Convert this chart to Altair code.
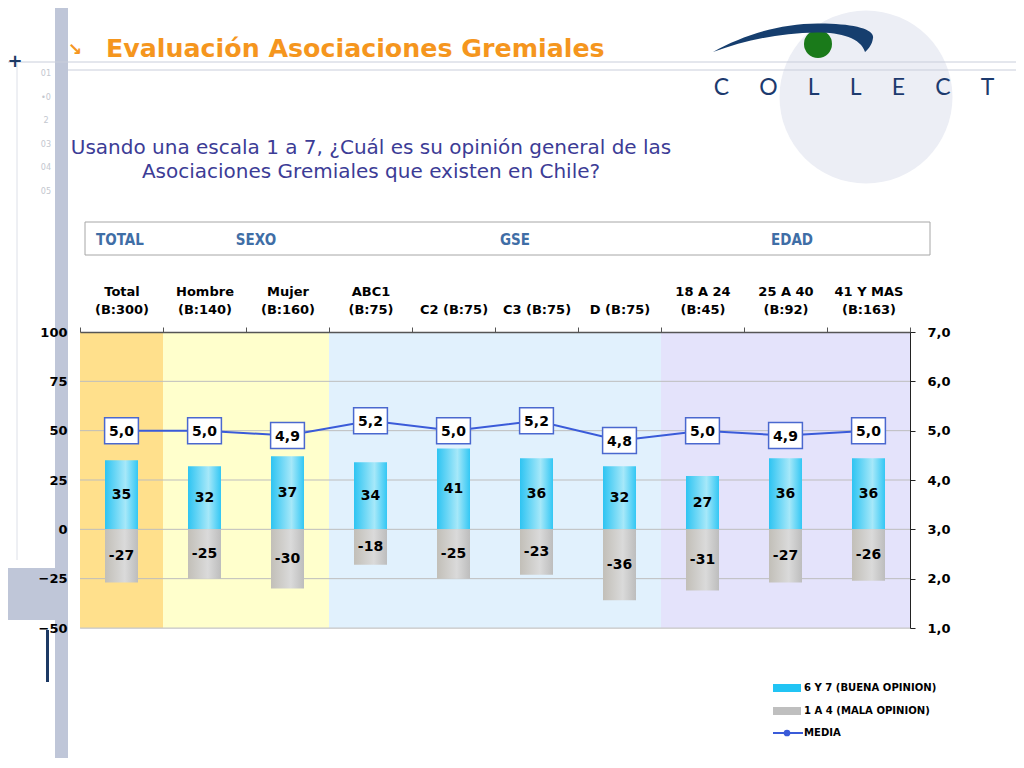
import altair as alt
import pandas as pd

# ---------------- data ----------------
cats = ["Total|(B:300)", "Hombre|(B:140)", "Mujer|(B:160)", "ABC1|(B:75)",
        "|C2 (B:75)", "|C3 (B:75)", "|D (B:75)", "18 A 24|(B:45)", "25 A 40|(B:92)",
        "41 Y MAS|(B:163)"]
groups = ["TOTAL", "SEXO", "SEXO", "GSE", "GSE", "GSE", "GSE", "EDAD", "EDAD", "EDAD"]
good = [35, 32, 37, 34, 41, 36, 32, 27, 36, 36]
bad = [-27, -25, -30, -18, -25, -23, -36, -31, -27, -26]
media = [5.0, 5.0, 4.9, 5.2, 5.0, 5.2, 4.8, 5.0, 4.9, 5.0]

group_names = ["TOTAL", "SEXO", "GSE", "EDAD"]
group_colors = ["#FFE08C", "#FFFFCC", "#E1F1FD", "#E4E3FB"]
left_ticks = [-50, -25, 0, 25, 50, 75, 100]
right_ticks = [1, 2, 3, 4, 5, 6, 7]
grid_vals = [75, 50, 25, 0, -25]
legend_labels = ["6 Y 7 (BUENA OPINION)", "1 A 4 (MALA OPINION)", "MEDIA"]
title_text = "Evaluación Asociaciones Gremiales"
question = ["Usando una escala 1 a 7, ¿Cuál es su opinión general de las",
            "Asociaciones Gremiales que existen en Chile?"]

df = pd.DataFrame({"cat": cats, "group": groups, "good": good, "bad": bad, "media": media})

W, H = 830, 296
FONT = "DejaVu Sans"
NARROW = "Liberation Sans Narrow, DejaVu Sans Condensed, Arial Narrow, sans-serif"

x_enc = alt.X("cat:N", sort=cats, title=None,
              scale=alt.Scale(paddingInner=0, paddingOuter=0),
              axis=alt.Axis(orient="top", labelAngle=0, labelExpr="split(datum.label, '|')",
                            labelFont=FONT, labelFontWeight="bold", labelFontSize=13,
                            labelColor="#000000", labelLineHeight=18, labelPadding=29,
                            labelOverlap=False, labelLimit=200,
                            domain=True, domainColor="#555555", domainWidth=1.5,
                            ticks=True, tickBand="extent", tickColor="#555555", tickSize=5,
                            grid=False, zindex=2))

left_scale = alt.Scale(domain=[-50, 100], nice=False, zero=False)
left_axis = alt.Axis(orient="left", values=left_ticks, domain=False, ticks=False, grid=False,
                     labelFont=FONT, labelFontWeight="bold", labelFontSize=13,
                     labelColor="#000000", labelPadding=13, title=None, zindex=2)
right_scale = alt.Scale(domain=[1, 7], nice=False, zero=False)
right_axis = alt.Axis(orient="right", values=right_ticks, domain=True, domainColor="#222222",
                      ticks=True, tickColor="#222222", tickSize=5, grid=False,
                      labelFont=FONT, labelFontWeight="bold", labelFontSize=13,
                      labelColor="#000000", labelPadding=12, title=None, zindex=2,
                      labelExpr="replace(format(datum.value, '.1f'), '.', ',')")

base = alt.Chart(df)

# background bands
bg = base.mark_rect().encode(
    x=x_enc, y=alt.value(0), y2=alt.value(H),
    color=alt.Color("group:N", scale=alt.Scale(domain=group_names, range=group_colors), legend=None),
)

grid = alt.Chart(pd.DataFrame({"v": grid_vals})).mark_rule(color="#BDBDBD", strokeWidth=1).encode(
    y=alt.Y("v:Q", scale=left_scale, axis=left_axis), x=alt.value(0), x2=alt.value(W))
bottom = alt.Chart(pd.DataFrame({"v": [-50]})).mark_rule(color="#C8C8C8", strokeWidth=1.2).encode(
    y=alt.Y("v:Q", scale=left_scale, axis=left_axis), x=alt.value(0), x2=alt.value(W))

blue_grad = alt.Gradient(gradient="linear", x1=0, x2=1, y1=0, y2=0, stops=[
    alt.GradientStop(color="#2EC4F2", offset=0),
    alt.GradientStop(color="#A6E8F9", offset=0.62),
    alt.GradientStop(color="#33C7F4", offset=1)])
gray_grad = alt.Gradient(gradient="linear", x1=0, x2=1, y1=0, y2=0, stops=[
    alt.GradientStop(color="#C2BFB8", offset=0),
    alt.GradientStop(color="#DADADA", offset=0.6),
    alt.GradientStop(color="#BDBDBD", offset=1)])

bars_good = base.mark_bar(size=33, color=blue_grad).encode(
    x=x_enc, y=alt.Y("good:Q", scale=left_scale, axis=left_axis), y2=alt.datum(0))
bars_bad = base.mark_bar(size=33, color=gray_grad).encode(
    x=x_enc, y=alt.Y("bad:Q", scale=left_scale, axis=left_axis), y2=alt.datum(0))

lab_good = base.transform_calculate(mid="datum.good/2", lbl="'' + datum.good").mark_text(
    font=FONT, fontWeight="bold", fontSize=14, color="#000000", baseline="middle").encode(
    x=x_enc, y=alt.Y("mid:Q", scale=left_scale, axis=left_axis), text="lbl:N")
lab_bad = base.transform_calculate(mid="datum.bad/2", lbl="'' + datum.bad").mark_text(
    font=FONT, fontWeight="bold", fontSize=14, color="#000000", baseline="middle").encode(
    x=x_enc, y=alt.Y("mid:Q", scale=left_scale, axis=left_axis), text="lbl:N")

left_group = alt.layer(bg, grid, bottom, bars_good, bars_bad, lab_good, lab_bad)

line = base.mark_line(color="#3A5BD9", strokeWidth=2).encode(
    x=x_enc, y=alt.Y("media:Q", scale=right_scale, axis=right_axis))
box_shape = "M-1.3,-1L1.3,-1L1.3,1L-1.3,1Z"
boxes = base.mark_point(shape=box_shape, size=676, filled=True, fill="#FFFFFF",
                        stroke="#4A68CF", strokeWidth=1.5, opacity=1).encode(
    x=x_enc, y=alt.Y("media:Q", scale=right_scale, axis=right_axis))
media_txt = base.transform_calculate(lbl="replace(format(datum.media, '.1f'), '.', ',')").mark_text(
    font=FONT, fontWeight="bold", fontSize=14, color="#000000", baseline="middle", dy=1).encode(
    x=x_enc, y=alt.Y("media:Q", scale=right_scale, axis=right_axis), text="lbl:N")

right_group = alt.layer(line, boxes, media_txt)

# ---------------- decorations ----------------
one = pd.DataFrame({"a": [0]})


def rect(x1, x2, y1, y2, **kw):
    return alt.Chart(one).mark_rect(**kw).encode(
        x=alt.value(x1), x2=alt.value(x2), y=alt.value(y1), y2=alt.value(y2))


def hrule(x1, x2, y, **kw):
    return alt.Chart(one).mark_rule(**kw).encode(x=alt.value(x1), x2=alt.value(x2), y=alt.value(y))


def vrule(x, y1, y2, **kw):
    return alt.Chart(one).mark_rule(**kw).encode(x=alt.value(x), y=alt.value(y1), y2=alt.value(y2))


def text(t, x, y, **kw):
    return alt.Chart(one).mark_text(**kw).encode(x=alt.value(x), y=alt.value(y), text=alt.value(t))


def point(x, y, **kw):
    return alt.Chart(one).mark_point(**kw).encode(x=alt.value(x), y=alt.value(y))


deco = [
    point(786, -235, shape="circle", size=29929, filled=True, color="#ECEEF5", opacity=1),
    rect(-25, -12, -332, 436, color="#BFC6D8"),
    rect(-72, -25, 236, 288, color="#BFC6D8"),
    rect(-34, -31, 298, 350, color="#1C3964"),
    vrule(-63, -270, 228, color="#DDE0E8", strokeWidth=1),
    hrule(-72, 936, -270, color="#C9CEDB", strokeWidth=1),
    hrule(-12, 936, -262, color="#C9CEDB", strokeWidth=1),
    text("+", -65, -270, font=FONT, fontWeight="bold", fontSize=18, color="#1C3964",
         baseline="middle", align="center"),
    text(["01", "•0", "2", "03", "04", "05"], -34, -259, font=NARROW, fontSize=9,
         color="#C3C7CF", baseline="middle", align="center", lineHeight=23.6),
    text("↘", -5, -282, font=FONT, fontWeight="bold", fontSize=17, color="#F5961E",
         baseline="middle", align="center"),
    text(title_text, 26, -275, font=FONT, fontWeight="bold", fontSize=25.3, color="#F5961E",
         baseline="alphabetic", align="left"),
    text(question[0], 291, -184, font=FONT, fontSize=20, color="#3C3C96",
         baseline="middle", align="center"),
    text(question[1], 291, -160, font=FONT, fontSize=20, color="#3C3C96",
         baseline="middle", align="center"),
    rect(5, 850, -110, -77, fill="#FFFFFF", stroke="#A6A6A6", strokeWidth=1),
    text(group_names[0], 16, -92, font=NARROW, fontWeight="bold", fontSize=15, color="#3F6EA6",
         baseline="middle", align="left"),
    text(group_names[1], 176, -92, font=NARROW, fontWeight="bold", fontSize=15, color="#3F6EA6",
         baseline="middle", align="center"),
    text(group_names[2], 435, -92, font=NARROW, fontWeight="bold", fontSize=15, color="#3F6EA6",
         baseline="middle", align="center"),
    text(group_names[3], 712, -92, font=NARROW, fontWeight="bold", fontSize=15, color="#3F6EA6",
         baseline="middle", align="center"),
    text("C\u2003\u2002\u200aO\u2003\u2002\u200aL\u2003\u2002\u200aL\u2003\u2002\u200aE\u2003\u2002\u200aC\u2003\u2002\u200aT",
         774, -244, font="Lato", fontSize=23, color="#1C3A6E", baseline="middle", align="center"),
    point(738, -288, shape="circle", size=784, filled=True, color="#1A7A1A", opacity=1),
    point(713, -294,
          shape="M-1,0.175C-0.6,-0.05 -0.1,-0.2 0.4,-0.18C0.8,-0.17 1.02,-0.1 1,0C0.99,0.08 0.95,0.13 0.9,0.175C0.85,0 0.6,-0.07 0.3,-0.07C-0.2,-0.06 -0.6,0.03 -1,0.175Z",
          size=25600, filled=True, color="#163E6E", opacity=1),
    # legend
    rect(693, 721, 352, 360, color="#21C4F4"),
    rect(693, 721, 375, 383, color="#BFBFBF"),
    hrule(693, 723, 401, color="#3A5BD9", strokeWidth=2),
    point(707, 401, shape="circle", size=45, filled=True, color="#3A5BD9", opacity=1),
    text(legend_labels[0], 724, 356, font=NARROW, fontWeight="bold", fontSize=11.2, color="#000000",
         baseline="middle", align="left"),
    text(legend_labels[1], 724, 379, font=NARROW, fontWeight="bold", fontSize=11.2, color="#000000",
         baseline="middle", align="left"),
    text(legend_labels[2], 724, 401, font=NARROW, fontWeight="bold", fontSize=11.2, color="#000000",
         baseline="middle", align="left"),
]

chart = alt.layer(*deco, left_group, right_group).resolve_scale(y="independent").properties(
    width=W, height=H,
    autosize=alt.AutoSizeParams(type="none"),
    padding={"left": 72, "top": 324, "right": 106, "bottom": 130},
).configure_view(stroke=None).configure(background="#FFFFFF")

chart.save("out.html", embed_options={"renderer": "svg", "actions": False})
